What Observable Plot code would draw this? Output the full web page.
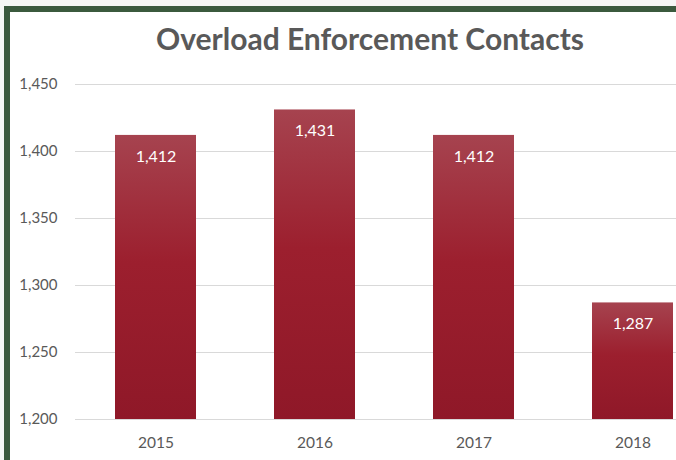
<!DOCTYPE html>
<html><head><meta charset="utf-8">
<script src="https://cdn.jsdelivr.net/npm/d3@7"></script>
<script src="https://cdn.jsdelivr.net/npm/@observablehq/plot@0.6"></script>
<style>
html,body{margin:0;padding:0;background:#f5f7f5;width:676px;height:460px;overflow:hidden;}
#frame{position:absolute;left:4px;top:6px;width:700px;height:470px;border-top:6px solid #3b5a3e;border-left:6px solid #3b5a3e;background:#fff;}
#wrap{position:absolute;left:0;top:0;width:676px;height:460px;overflow:hidden;}
#title{position:absolute;left:0;top:20px;width:740px;text-align:center;font-family:Lato,sans-serif;font-weight:700;font-size:30px;line-height:36px;color:#595959;}
#chart svg{position:absolute;left:0;top:0;max-width:none !important;}
</style></head>
<body>
<div id="frame"></div>
<div id="wrap"><div id="title">Overload Enforcement Contacts</div><div id="chart"></div></div>
<script>
const years = ["2015","2016","2017","2018"];
const contacts = [1412, 1431, 1412, 1287];
const yTicks = [1200, 1250, 1300, 1350, 1400, 1450];
const data = years.map((y,i)=>({year:y, value:contacts[i]}));
const fmt = d3.format(",");
const chart = Plot.plot({
  width: 713, height: 460,
  marginLeft: 75, marginRight: 0, marginTop: 84, marginBottom: 41,
  style: {background: "transparent", fontFamily: "Lato, sans-serif", overflow: "visible", maxWidth: "none"},
  x: {domain: years, paddingInner: 0.49, paddingOuter: 0.245, label: null},
  y: {domain: [1200, 1450], ticks: yTicks, label: null},
  marks: [
    () => {
      const ns = "http://www.w3.org/2000/svg";
      const defs = document.createElementNS(ns, "defs");
      defs.innerHTML = `<linearGradient id="barg" x1="0" y1="0" x2="0" y2="1">
        <stop offset="0" stop-color="#a6434f"/>
        <stop offset="0.45" stop-color="#9c1f2e"/>
        <stop offset="1" stop-color="#8f1828"/>
      </linearGradient>
      <filter id="sh" x="-10%" y="-10%" width="130%" height="120%"><feDropShadow dx="2" dy="1" stdDeviation="1.5" flood-color="#000" flood-opacity="0.25"/></filter>`;
      return defs;
    },
    Plot.gridY(yTicks, {stroke: "#d9d9d9", strokeOpacity: 1, strokeWidth: 1}),
    Plot.barY(data, {x: "year", y1: 1200, y2: "value", fill: "url(#barg)", style: {filter: "url(#sh)"}}),
    Plot.axisY(yTicks, {tickSize: 0, tickPadding: 18, tickFormat: fmt, fontSize: 15, fill: "#595959"}),
    Plot.axisX({tickSize: 0, tickPadding: 17, fontSize: 15.5, fill: "#595959"}),
    Plot.text(data, {x: "year", y: "value", text: d => fmt(d.value), dy: 21, fill: "white", fontSize: 16})
  ]
});
document.getElementById("chart").appendChild(chart);
</script>
</body></html>
